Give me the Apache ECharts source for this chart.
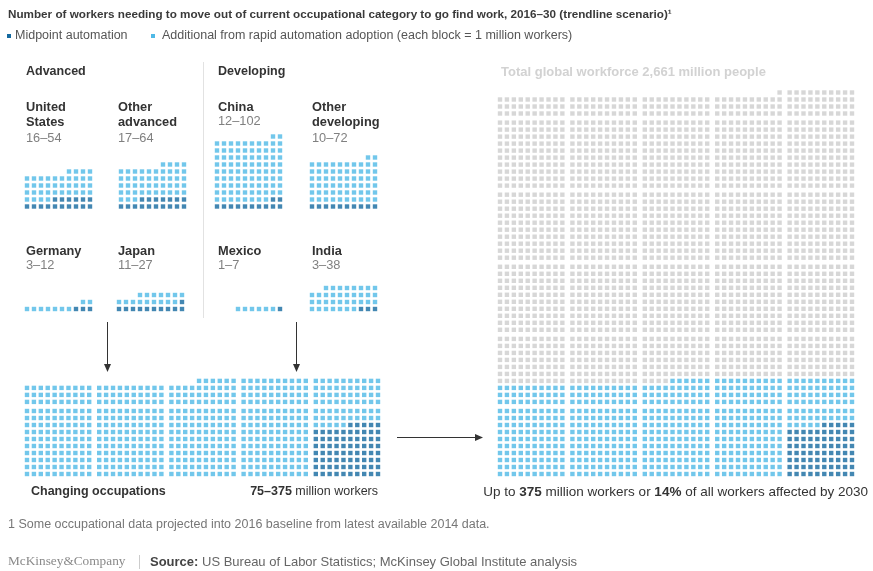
<!DOCTYPE html>
<html><head><meta charset="utf-8">
<script src="https://cdn.jsdelivr.net/npm/echarts@6/dist/echarts.min.js"></script>
<style>html,body{margin:0;padding:0;background:#fff}#c{width:873px;height:571px}</style>
</head><body><div id="c"></div>
<script>
// ---------- DATA ----------
const countryNames = ['United\nStates', 'Other\nadvanced', 'China', 'Other\ndeveloping', 'Germany', 'Japan', 'Mexico', 'India'];
const midpointMillions = [16, 17, 12, 10, 3, 11, 1, 3];
const rapidMillions = [54, 64, 102, 72, 12, 27, 7, 38];
const groupNames = ['Advanced', 'Developing'];
// dots drawn per block-column in the "changing occupations" waffle (left to right)
const changingDotsPerColumn = [130, 130, 136, 140, 140];
const changingMidpointDots = 75;
// dots drawn per block-column in the total global workforce waffle
const workforceDotsPerColumn = [530, 530, 530, 531, 540];
const changingRange = ['75', '375'];
const totalWorkforce = '2,661';
const affectedMax = '375';
const affectedShare = '14%';

// ---------- STYLE / LAYOUT ----------
const DARK = '#14699f', LIGHT = '#4fb9e6', GRAY = '#cdcdcd';
const P = 7;          // dot pitch in px
const DOT = 4.4;      // dot size
const FONT = '"Liberation Sans", Arial, sans-serif';
const countryAnchors = [[27, 206.5], [121, 206.5], [217, 206.5], [312, 206.5], [27, 309], [119, 309], [217, 309], [312, 309]];
const labelAnchors = [[26, 107], [118, 107], [218, 107], [312, 107], [26, 251], [118, 251], [218, 251], [312, 251]];

const grids = [], xAxes = [], yAxes = [], series = [];
function addGrid(left, bottomCenter, xMax, yMax, px) {
  const w = (xMax + 1) * px, h = (yMax + 1) * P;
  grids.push({left: left - px / 2, top: bottomCenter + P / 2 - h, width: w, height: h});
  const gi = grids.length - 1;
  xAxes.push({type: 'value', gridIndex: gi, min: -0.5, max: xMax + 0.5, show: false});
  yAxes.push({type: 'value', gridIndex: gi, min: -0.5, max: yMax + 0.5, show: false});
  return gi;
}
function scatter(gi, data, color) {
  series.push({type: 'scatter', xAxisIndex: gi, yAxisIndex: gi, data, symbol: 'rect', symbolSize: DOT,
    itemStyle: {color}, silent: true, animation: false});
}

// country waffles: fill bottom row first, right to left
countryNames.forEach((n, k) => {
  const total = rapidMillions[k], dark = midpointMillions[k];
  const rows = Math.ceil(total / 10);
  const gi = addGrid(countryAnchors[k][0], countryAnchors[k][1], 9, rows - 1, P);
  const d = [], l = [];
  for (let i = 0; i < total; i++) {
    const pt = [9 - (i % 10), Math.floor(i / 10)];
    (i < dark ? d : l).push(pt);
  }
  scatter(gi, l, LIGHT); scatter(gi, d, DARK);
});

// big block waffles (blocks of 10x10 with gaps)
const BLK = 10.45;
function blockPoint(c, i) {
  const r = Math.floor(i / 10), band = Math.floor(r / 10);
  return [c * BLK + 9 - (i % 10), band * 10.3 + (r % 10)];
}
function bigWaffle(left, right, bottomCenter, columnsTotal, colored) {
  const maxBands = Math.max(...columnsTotal.map(t => Math.ceil(t / 10)));
  const topRow = blockPoint(0, (maxBands - 1) * 10)[1];
  const xMax = 4 * BLK + 9;
  const px = (right - left) / xMax;
  const gi = addGrid(left, bottomCenter, xMax, topRow, px);
  const d = [], l = [], g = [];
  columnsTotal.forEach((t, c) => {
    for (let i = 0; i < t; i++) {
      const pt = blockPoint(c, i);
      if (c === 4 && i < changingMidpointDots) d.push(pt);
      else if (i < colored[c]) l.push(pt);
      else g.push(pt);
    }
  });
  scatter(gi, g, GRAY); scatter(gi, l, LIGHT); scatter(gi, d, DARK);
}
bigWaffle(27, 378, 474, changingDotsPerColumn, changingDotsPerColumn);
bigWaffle(500, 852, 474, workforceDotsPerColumn, changingDotsPerColumn);

// ---------- TEXT ----------
const g = [];
function txt(x, y, text, o = {}) {
  g.push({type: 'text', x, y, silent: true, style: Object.assign({text, fill: o.fill || '#333',
    font: o.font || ('12px ' + FONT), verticalAlign: 'middle', align: o.align || 'left'}, o.extra || {})});
}
txt(8, 15, 'Number of workers needing to move out of current occupational category to go find work, 2016–30 (trendline scenario)¹',
  {font: 'bold 11.7px ' + FONT, fill: '#3a3a3a'});
g.push({type: 'rect', shape: {x: 7, y: 34, width: 4, height: 4}, style: {fill: DARK}, silent: true});
g.push({type: 'rect', shape: {x: 151, y: 34, width: 4, height: 4}, style: {fill: LIGHT}, silent: true});
txt(15, 36, 'Midpoint automation', {font: '12.5px ' + FONT, fill: '#555'});
txt(162, 36, 'Additional from rapid automation adoption (each block = 1 million workers)', {font: '12.5px ' + FONT, fill: '#555'});
txt(26, 72, groupNames[0], {font: 'bold 12.5px ' + FONT});
txt(218, 72, groupNames[1], {font: 'bold 12.5px ' + FONT});
countryNames.forEach((n, k) => {
  const [x, y] = labelAnchors[k];
  const lines = n.split('\n');
  lines.forEach((s, j) => txt(x, y + j * 15.5, s, {font: 'bold 12.8px ' + FONT}));
  txt(x, y + lines.length * 15.5 + (lines.length === 1 ? -1 : 0), midpointMillions[k] + '–' + rapidMillions[k], {font: '12.8px ' + FONT, fill: '#808080'});
});
// separator
g.push({type: 'line', shape: {x1: 203.5, y1: 62, x2: 203.5, y2: 318}, style: {stroke: '#e2e2e2', lineWidth: 1}, silent: true});
// arrows
function arrowDown(x, y1, y2) {
  g.push({type: 'line', shape: {x1: x, y1, x2: x, y2: y2 - 6}, style: {stroke: '#333', lineWidth: 1}, silent: true});
  g.push({type: 'polygon', shape: {points: [[x - 3.5, y2 - 8], [x + 3.5, y2 - 8], [x, y2]]}, style: {fill: '#333'}, silent: true});
}
arrowDown(107.5, 322, 372);
arrowDown(296.5, 322, 372);
g.push({type: 'line', shape: {x1: 397, y1: 437.5, x2: 477, y2: 437.5}, style: {stroke: '#333', lineWidth: 1}, silent: true});
g.push({type: 'polygon', shape: {points: [[475, 434], [475, 441], [483, 437.5]]}, style: {fill: '#333'}, silent: true});

txt(31, 492, 'Changing occupations', {font: 'bold 12.5px ' + FONT});
g.push({type: 'text', x: 378, y: 492, silent: true, style: {text: '{b|' + changingRange[0] + '–' + changingRange[1] + '} million workers',
  font: '12.5px ' + FONT, fill: '#333', align: 'right', verticalAlign: 'middle',
  rich: {b: {font: 'bold 12.5px ' + FONT, fill: '#333'}}}});
txt(501, 72, 'Total global workforce ' + totalWorkforce + ' million people', {font: 'bold 13px ' + FONT, fill: '#d2d2d2'});
g.push({type: 'text', x: 868, y: 492, silent: true, style: {text: 'Up to {b|' + affectedMax + '} million workers or {b|' + affectedShare + '} of all workers affected by 2030',
  font: '13.5px ' + FONT, fill: '#333', align: 'right', verticalAlign: 'middle',
  rich: {b: {font: 'bold 13.5px ' + FONT, fill: '#333'}}}});
txt(8, 525, '1 Some occupational data projected into 2016 baseline from latest available 2014 data.', {font: '12.5px ' + FONT, fill: '#777'});
txt(8, 562, 'McKinsey&Company', {font: '13.3px "Liberation Serif", "DejaVu Serif", serif', fill: '#8a8a8a'});
g.push({type: 'line', shape: {x1: 139.5, y1: 555, x2: 139.5, y2: 569}, style: {stroke: '#ccc', lineWidth: 1}, silent: true});
g.push({type: 'text', x: 150, y: 562, silent: true, style: {text: '{b|Source:} US Bureau of Labor Statistics; McKinsey Global Institute analysis',
  font: '13px ' + FONT, fill: '#666', verticalAlign: 'middle', rich: {b: {font: 'bold 13px ' + FONT, fill: '#444'}}}});

const chart = echarts.init(document.getElementById('c'), null, {renderer: 'canvas'});
chart.setOption({animation: false, backgroundColor: '#fff', grid: grids, xAxis: xAxes, yAxis: yAxes, series, graphic: g});
</script></body></html>
